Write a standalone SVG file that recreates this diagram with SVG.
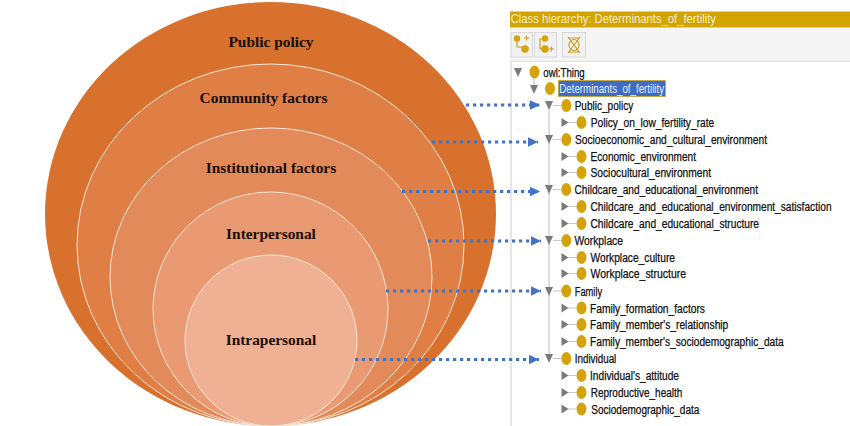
<svg xmlns="http://www.w3.org/2000/svg" width="850" height="426" viewBox="0 0 850 426">
<style>
.c{stroke:#f8e6d4;stroke-width:1}
.l{font:bold 15.400px "Liberation Serif",serif;fill:#1a0d05;text-anchor:middle}
.t{font:12px "Liberation Sans",sans-serif;fill:#111;stroke:#111;stroke-width:.25}
.k{fill:#d4a20a}
.a{stroke:#4472c4;stroke-width:3;stroke-dasharray:3.200 3.800;fill:none;marker-end:url(#h)}
.g{stroke:#c8c8c8;stroke-width:1.200;fill:none}
.o{fill:#7a7a7a}
.b{fill:#f1f1f1;stroke:#d8d8d8}
.i{stroke:#c9a020;stroke-width:1.200;fill:none}
</style>
<defs>
<marker id="h" markerUnits="userSpaceOnUse" markerWidth="11" markerHeight="11" refX="10" refY="5.500" orient="auto"><path d="M0 .8L10 5.500L0 10.200Z" fill="#4472c4"/></marker>
<path id="d" d="M0 0h8l-4 9z" class="o"/>
<path id="r" d="M0 0l7 4.500l-7 4.500z" class="o"/>
</defs>
<rect width="850" height="426" fill="#fff"/>
<g id="circles">
<g id="n-public"><ellipse cx="270.500" cy="214" rx="225.500" ry="212" fill="#d7712d"/><text class="l" x="271" y="47">Public policy</text></g>
<g id="n-community"><ellipse cx="270.500" cy="245" rx="193.500" ry="181" fill="#df7f46" class="c"/><text class="l" x="263.500" y="103">Community factors</text></g>
<g id="n-institutional"><ellipse cx="271" cy="277" rx="161" ry="149" fill="#e38a5b" class="c"/><text class="l" x="271" y="173">Institutional factors</text></g>
<g id="n-interpersonal"><ellipse cx="270.500" cy="309" rx="117.500" ry="117" fill="#e99a72" class="c"/><text class="l" x="271" y="239">Interpersonal</text></g>
<g id="n-intrapersonal"><ellipse cx="271" cy="340.500" rx="86" ry="85.500" fill="#f0b094" class="c"/><text class="l" x="271" y="345">Intrapersonal</text></g>
</g>
<g id="panel">
<rect x="510" y="11.500" width="340" height="16" fill="#d2a400"/>
<text x="510.700" y="22.500" font-family="Liberation Sans,sans-serif" font-size="13" fill="#f3ecd0" textLength="205.300" lengthAdjust="spacingAndGlyphs">Class hierarchy: Determinants_of_fertility</text>
<rect x="510" y="28" width="340" height="33" fill="#f5f5f5"/>
<rect x="510" y="61" width="340" height="365" fill="#fff"/>
<rect x="510" y="61" width="2" height="365" fill="#e6e6e6"/>
<rect x="510" y="60.500" width="340" height="1.500" fill="#e6e6e6"/>
<g id="btn1"><rect x="511" y="32.500" width="21.500" height="24.500" class="b"/><circle cx="517" cy="38.500" r="3.200" class="k"/><circle cx="525" cy="49" r="3.800" class="k"/><path d="M517 41v6h5M524 38h5M526.500 35.500v5" class="i"/></g>
<g id="btn2"><rect x="534.500" y="32.500" width="22" height="24.500" class="b"/><circle cx="545" cy="38.500" r="3.200" class="k"/><circle cx="545" cy="49" r="3.800" class="k"/><path d="M543 39h-3v10h2M549 49h5M551.500 46.500v5" class="i"/></g>
<g id="btn3"><rect x="562.500" y="32.500" width="23" height="24.500" class="b"/><ellipse cx="574" cy="45" rx="5" ry="5.500" class="i" stroke-width="1.500"/><path d="M568 37l12 16M580 37l-12 16M569 38h10M569 52h10" class="i"/></g>
</g>
<g id="tree">
<path class="g" d="M534 78v7M549 110v245M553 105.500h8M553 139.500h8M553 189.500h8M553 240.500h8M553 291h8M553 358.500h8M568 122.500h8M568 156.500h8M568 172.500h8M568 206.500h8M568 223.500h8M568 257.500h8M568 273.500h8M568 308h8M568 324.500h8M568 341.500h8M568 375.500h8M568 392.500h8M568 409h8"/>
<use href="#d" x="514" y="68"/><ellipse cx="534.500" cy="72" rx="5" ry="6.500" class="k"/><text class="t" x="543.300" y="76.500" textLength="41.400" lengthAdjust="spacingAndGlyphs">owl:Thing</text>
<use href="#d" x="530" y="85"/><ellipse cx="550" cy="88.500" rx="5" ry="6.500" class="k"/><rect x="558.500" y="80.500" width="107" height="16" fill="#3d6cc0" stroke="#d4a20a" stroke-width=".7"/><text x="559.300" y="93" font-family="Liberation Sans,sans-serif" font-size="12" fill="#e8eefa" textLength="104.700" lengthAdjust="spacingAndGlyphs">Determinants_of_fertility</text>
<g id="n-pp"><use href="#d" x="545" y="101"/><ellipse cx="566.300" cy="105.500" rx="5" ry="6.500" class="k"/><text class="t" x="574.700" y="110" textLength="58.500" lengthAdjust="spacingAndGlyphs">Public_policy</text></g>
<g id="n-pl"><use href="#r" x="561.500" y="118"/><ellipse cx="581.500" cy="122.500" rx="5" ry="6.500" class="k"/><text class="t" x="590.700" y="127" textLength="123.500" lengthAdjust="spacingAndGlyphs">Policy_on_low_fertility_rate</text></g>
<g id="n-se"><use href="#d" x="545" y="135"/><ellipse cx="566.300" cy="139.500" rx="5" ry="6.500" class="k"/><text class="t" x="575" y="144" textLength="192" lengthAdjust="spacingAndGlyphs">Socioeconomic_and_cultural_environment</text></g>
<g id="n-ee"><use href="#r" x="561.500" y="152"/><ellipse cx="581.500" cy="156.500" rx="5" ry="6.500" class="k"/><text class="t" x="590.500" y="161" textLength="105.500" lengthAdjust="spacingAndGlyphs">Economic_environment</text></g>
<g id="n-sc"><use href="#r" x="561.500" y="168"/><ellipse cx="581.500" cy="172.500" rx="5" ry="6.500" class="k"/><text class="t" x="590.500" y="177" textLength="120.500" lengthAdjust="spacingAndGlyphs">Sociocultural_environment</text></g>
<g id="n-ch"><use href="#d" x="545" y="185"/><ellipse cx="566.300" cy="189.500" rx="5" ry="6.500" class="k"/><text class="t" x="574.500" y="194" textLength="183.500" lengthAdjust="spacingAndGlyphs">Childcare_and_educational_environment</text></g>
<g id="n-cs"><use href="#r" x="561.500" y="202"/><ellipse cx="581.500" cy="206.500" rx="5" ry="6.500" class="k"/><text class="t" transform="translate(590.500 211) scale(.847 1)">Childcare_and_educational_environment_satisfaction</text></g>
<g id="n-ct"><use href="#r" x="561.500" y="219"/><ellipse cx="581.500" cy="223.500" rx="5" ry="6.500" class="k"/><text class="t" x="590.500" y="228" textLength="168.500" lengthAdjust="spacingAndGlyphs">Childcare_and_educational_structure</text></g>
<g id="n-wp"><use href="#d" x="545" y="236"/><ellipse cx="566.300" cy="240.500" rx="5" ry="6.500" class="k"/><text class="t" x="574.500" y="245" textLength="48.500" lengthAdjust="spacingAndGlyphs">Workplace</text></g>
<g id="n-wc"><use href="#r" x="561.500" y="253"/><ellipse cx="581.500" cy="257.500" rx="5" ry="6.500" class="k"/><text class="t" x="590.500" y="262" textLength="84.500" lengthAdjust="spacingAndGlyphs">Workplace_culture</text></g>
<g id="n-ws"><use href="#r" x="561.500" y="269"/><ellipse cx="581.500" cy="273.500" rx="5" ry="6.500" class="k"/><text class="t" x="590.500" y="278" textLength="95.500" lengthAdjust="spacingAndGlyphs">Workplace_structure</text></g>
<g id="n-fa"><use href="#d" x="545" y="287"/><ellipse cx="566.300" cy="291" rx="5" ry="6.500" class="k"/><text class="t" x="574.700" y="295.500" textLength="27.500" lengthAdjust="spacingAndGlyphs">Family</text></g>
<g id="n-ff"><use href="#r" x="561.500" y="303.500"/><ellipse cx="581.500" cy="308" rx="5" ry="6.500" class="k"/><text class="t" x="590" y="312.500" textLength="115" lengthAdjust="spacingAndGlyphs">Family_formation_factors</text></g>
<g id="n-fr"><use href="#r" x="561.500" y="320"/><ellipse cx="581.500" cy="324.500" rx="5" ry="6.500" class="k"/><text class="t" x="590" y="329" textLength="138.300" lengthAdjust="spacingAndGlyphs">Family_member's_relationship</text></g>
<g id="n-fs"><use href="#r" x="561.500" y="337"/><ellipse cx="581.500" cy="341.500" rx="5" ry="6.500" class="k"/><text class="t" x="590" y="346" textLength="193.700" lengthAdjust="spacingAndGlyphs">Family_member's_sociodemographic_data</text></g>
<g id="n-in"><use href="#d" x="545" y="354"/><ellipse cx="566.300" cy="358.500" rx="5" ry="6.500" class="k"/><text class="t" x="574.700" y="363" textLength="41.600" lengthAdjust="spacingAndGlyphs">Individual</text></g>
<g id="n-ia"><use href="#r" x="561.500" y="371"/><ellipse cx="581.500" cy="375.500" rx="5" ry="6.500" class="k"/><text class="t" x="590" y="380" textLength="89" lengthAdjust="spacingAndGlyphs">Individual's_attitude</text></g>
<g id="n-rh"><use href="#r" x="561.500" y="388"/><ellipse cx="581.500" cy="392.500" rx="5" ry="6.500" class="k"/><text class="t" x="590.700" y="397" textLength="91.600" lengthAdjust="spacingAndGlyphs">Reproductive_health</text></g>
<g id="n-sd"><use href="#r" x="561.500" y="404.500"/><ellipse cx="581.500" cy="409" rx="5" ry="6.500" class="k"/><text class="t" x="591.300" y="413.500" textLength="108" lengthAdjust="spacingAndGlyphs">Sociodemographic_data</text></g>
</g>
<g id="connectors">
<path class="a" d="M466 105H540"/>
<path class="a" d="M432 142H538"/>
<path class="a" d="M402 191.500H540"/>
<path class="a" d="M428 241H541"/>
<path class="a" d="M386 291H541"/>
<path class="a" d="M355 359.500H539"/>
</g>
</svg>
